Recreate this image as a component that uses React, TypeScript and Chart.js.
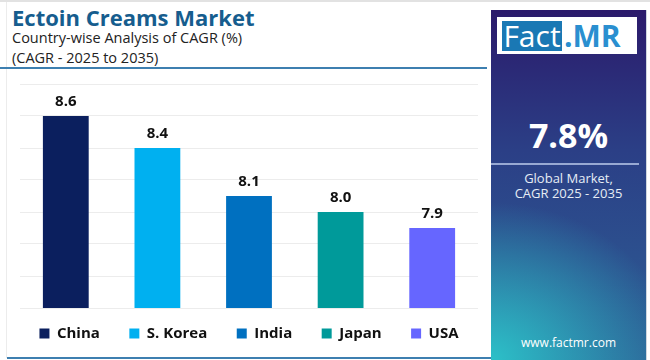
import React, { useEffect, useRef } from "react";
import { Chart, registerables } from "chart.js";

Chart.register(...registerables);

const categories = ["China", "S. Korea", "India", "Japan", "USA"];
const cagrValues = [8.6, 8.4, 8.1, 8.0, 7.9];
const barColors = ["#0b1f5e", "#00b0f0", "#0070c0", "#009a9a", "#6666ff"];
const yMin = 7.4;
const yMax = 8.8;
const yStep = 0.2;

const FONT = "'Open Sans', 'DejaVu Sans', sans-serif";
const LEGEND_GAP = "     ";

const valueLabelPlugin = {
  id: "valueLabels",
  afterDatasetsDraw(chart: any) {
    const ctx = chart.ctx;
    ctx.save();
    ctx.font = `bold 15px ${FONT}`;
    ctx.fillStyle = "#111111";
    ctx.textAlign = "center";
    ctx.textBaseline = "middle";
    chart.data.datasets.forEach((ds: any, di: number) => {
      const meta = chart.getDatasetMeta(di);
      meta.data.forEach((el: any, i: number) => {
        const v = ds.data[i];
        if (v === null || v === undefined) return;
        ctx.fillText(Number(v).toFixed(1), el.x, el.y - 14);
      });
    });
    ctx.restore();
  },
};

function BarChart() {
  const ref = useRef<HTMLCanvasElement | null>(null);
  useEffect(() => {
    if (!ref.current) return;
    const chart = new Chart(ref.current, {
      type: "bar",
      data: {
        labels: categories,
        datasets: categories.map((c, i) => ({
          label: i < categories.length - 1 ? c + LEGEND_GAP : c,
          data: cagrValues.map((v, j) => (j === i ? v : null)),
          backgroundColor: barColors[i],
          borderWidth: 0,
          barPercentage: 0.5,
          categoryPercentage: 1,
          grouped: false,
        })),
      },
      options: {
        animation: false,
        responsive: true,
        maintainAspectRatio: false,
        layout: { padding: { top: 14, left: 20, right: 13, bottom: 7 } },
        scales: {
          x: {
            display: true,
            ticks: { display: false },
            grid: { display: true, color: "rgba(0,0,0,0)", drawTicks: true, tickLength: 8 },
            border: { display: false },
          },
          y: {
            min: yMin,
            max: yMax,
            ticks: { display: false, stepSize: yStep },
            grid: { color: "#ececec", lineWidth: 1, drawTicks: false },
            border: { display: false },
          },
        },
        plugins: {
          legend: {
            position: "bottom",
            labels: {
              boxWidth: 10,
              boxHeight: 10,
              padding: 10,
              color: "#111111",
              font: { family: FONT, size: 15, weight: "bold" },
            },
          },
          tooltip: { enabled: false },
          title: { display: false },
        },
      },
      plugins: [valueLabelPlugin],
    } as any);
    return () => chart.destroy();
  }, []);
  return <canvas ref={ref} />;
}

export default function App() {
  return (
    <div
      style={{
        position: "absolute",
        left: 0,
        top: 0,
        width: 650,
        height: 360,
        background: "#ffffff",
        overflow: "hidden",
        fontFamily: FONT,
      }}
    >
      <div style={{ position: "absolute", left: 0, top: 0, width: 650, height: 2, background: "#e2e2e2" }} />
      <div style={{ position: "absolute", left: 6, top: 2, width: 1, height: 356, background: "#ececec" }} />
      <div
        style={{
          position: "absolute",
          left: 12,
          top: 2,
          fontSize: 22,
          fontWeight: 700,
          color: "#165d8e",
          lineHeight: "30px",
          whiteSpace: "nowrap",
        }}
      >
        Ectoin Creams Market
      </div>
      <div
        style={{
          position: "absolute",
          left: 12,
          top: 28,
          fontSize: 14.5,
          color: "#222222",
          lineHeight: "20px",
          whiteSpace: "nowrap",
        }}
      >
        Country-wise Analysis of CAGR (%)
        <br />
        (CAGR - 2025 to 2035)
      </div>
      <div style={{ position: "absolute", left: 0, top: 67, width: 487, height: 2, background: "#3d7fb0" }} />
      <div style={{ position: "absolute", left: 0, top: 70, width: 491, height: 288 }}>
        <BarChart />
      </div>
      <div style={{ position: "absolute", left: 7, top: 357, width: 484, height: 2, background: "#3d7fb0" }} />

      <div
        style={{
          position: "absolute",
          left: 491,
          top: 10,
          width: 155,
          height: 350,
          background:
            "radial-gradient(ellipse 120% 45% at 0% 100%, rgba(44,192,200,1) 0%, rgba(44,192,200,0) 100%), linear-gradient(180deg, #2b1a6b 0%, #2b3f86 40%, #2d6096 100%)",
          borderRight: "1px solid #cfd6de",
          color: "#ffffff",
        }}
      >
        <div
          style={{
            position: "absolute",
            left: 6,
            top: 7,
            width: 140,
            height: 37,
            background: "#ffffff",
          }}
        >
          <div
            style={{
              position: "absolute",
              left: 5,
              top: 4,
              width: 60,
              height: 30,
              background: "#1a78b4",
              color: "#ffffff",
              fontSize: 30,
              lineHeight: "30px",
              textAlign: "center",
            }}
          >
            Fact
          </div>
          <div
            style={{
              position: "absolute",
              left: 67,
              top: 4,
              width: 72,
              height: 30,
              color: "#2a8fd0",
              fontSize: 30,
              fontWeight: 700,
              lineHeight: "30px",
              textAlign: "left",
            }}
          >
            .MR
          </div>
        </div>
        <div
          style={{
            position: "absolute",
            left: 0,
            top: 104,
            width: 155,
            textAlign: "center",
            fontSize: 34,
            fontWeight: 700,
            lineHeight: "42px",
          }}
        >
          7.8%
        </div>
        <div
          style={{
            position: "absolute",
            left: 0,
            top: 153,
            width: 148,
            height: 2,
            background: "rgba(180,195,230,0.8)",
          }}
        />
        <div
          style={{
            position: "absolute",
            left: 0,
            top: 161,
            width: 155,
            textAlign: "center",
            fontSize: 13,
            lineHeight: "15px",
            color: "#e6edf5",
          }}
        >
          Global Market,
          <br />
          CAGR 2025 - 2035
        </div>
        <div
          style={{
            position: "absolute",
            left: 0,
            top: 325,
            width: 155,
            textAlign: "center",
            fontSize: 12,
            lineHeight: "16px",
            color: "#ffffff",
          }}
        >
          www.factmr.com
        </div>
      </div>
    </div>
  );
}
